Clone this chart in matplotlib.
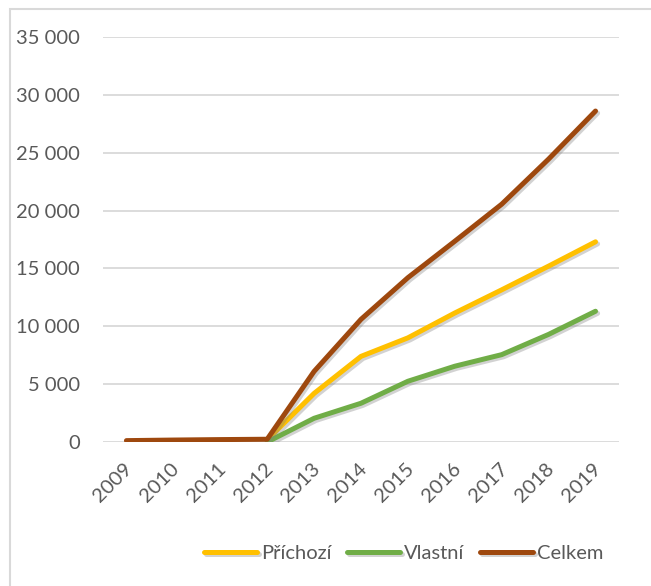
import numpy as np
import matplotlib
matplotlib.use("Agg")
import matplotlib.pyplot as plt
import matplotlib.patheffects as pe
import matplotlib.transforms as mtransforms
from matplotlib.ticker import FuncFormatter, MultipleLocator

years = ["2009", "2010", "2011", "2012", "2013", "2014", "2015", "2016", "2017", "2018", "2019"]
prichozi = [np.nan, np.nan, np.nan, 200, 4200, 7400, 9000, 11150, 13150, 15200, 17300]
vlastni = [np.nan, np.nan, np.nan, 0, 2050, 3350, 5250, 6550, 7550, 9300, 11300]
celkem = [120, 170, 210, 240, 6100, 10600, 14200, 17350, 20550, 24450, 28600]

series = [("Příchozí", prichozi, "#FFC000"),
          ("Vlastní", vlastni, "#70AD47"),
          ("Celkem", celkem, "#9E480E")]

plt.rcParams['font.family'] = ['Lato', 'DejaVu Sans']
TEXT_COLOR = "#595959"
FS = 14.5

fig = plt.figure(figsize=(6.51, 5.86), dpi=100)
ax = fig.add_axes([0.1582, 0.2457, 0.7926, 0.6912])

x = np.arange(len(years))
shadow = [pe.SimpleLineShadow(offset=(1.5, -1.5), shadow_color="gray", alpha=0.35), pe.Normal()]
for name, vals, color in series:
    ax.plot(x, vals, color=color, linewidth=3.6, solid_capstyle="round",
            label=name, path_effects=shadow)

ax.set_xlim(-0.5, len(years) - 0.5)
ax.set_ylim(0, 35000)
ax.yaxis.set_major_locator(MultipleLocator(5000))
ax.yaxis.set_major_formatter(FuncFormatter(lambda v, p: f"{int(v):,}".replace(",", " ")))
ax.grid(axis="y", color="#D9D9D9", linewidth=1.3)
ax.set_axisbelow(True)
for s in ax.spines.values():
    s.set_visible(False)

ax.set_xticks(x)
ax.set_xticklabels(years, rotation=45, ha="right", rotation_mode="anchor")
ax.tick_params(axis="both", length=0, labelsize=FS, labelcolor=TEXT_COLOR)
ax.tick_params(axis="y", pad=16.5)
ax.tick_params(axis="x", pad=13)
shift = mtransforms.ScaledTranslation(-3 / 100, 0, fig.dpi_scale_trans)
for lab in ax.get_xticklabels():
    lab.set_transform(lab.get_transform() + shift)

leg = fig.legend(loc="center", bbox_to_anchor=(0.62, 0.055), ncol=3, frameon=False,
                 fontsize=FS, handlelength=2.6, handletextpad=0.2, columnspacing=0.8)
for t in leg.get_texts():
    t.set_color(TEXT_COLOR)
for h in leg.get_lines():
    h.set_linewidth(3.6)
    h.set_solid_capstyle("round")

# light outer border of the chart area
fig.patches.append(plt.Rectangle((10 / 651, -0.1), 1.2, 1.1 - 9 / 586, transform=fig.transFigure,
                                 fill=False, edgecolor="#D9D9D9", linewidth=1.5))

fig.savefig("out.png", dpi=100)
